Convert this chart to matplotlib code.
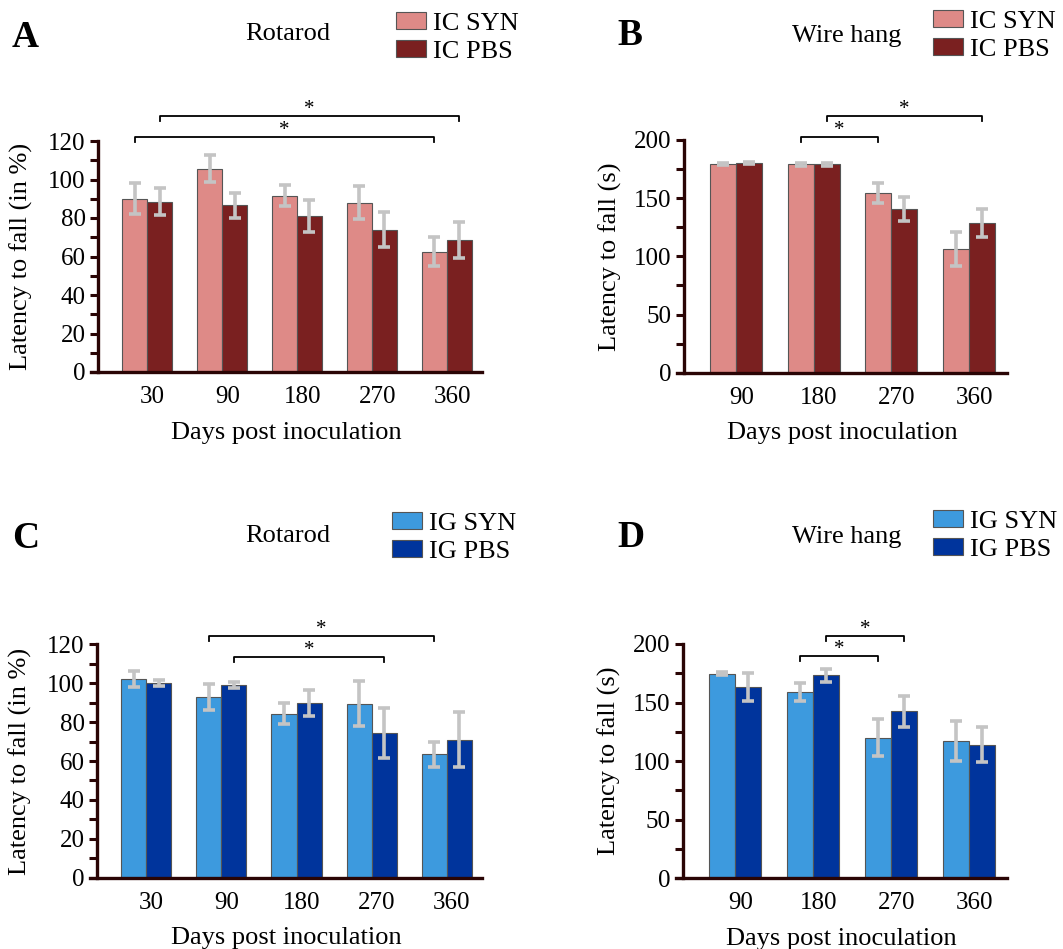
import matplotlib
matplotlib.use("Agg")
import matplotlib.pyplot as plt
import numpy as np

plt.rcParams['font.family'] = ['Liberation Serif', 'DejaVu Serif']

# ---------------- data ----------------
rot_days = ["30", "90", "180", "270", "360"]
wire_days = ["90", "180", "270", "360"]

A_syn = [90, 105.5, 91.5, 88, 62.5]
A_syn_err = [8, 7, 5.5, 8.7, 7.6]
A_pbs = [88.5, 86.5, 81, 74, 68.7]
A_pbs_err = [7, 6.5, 8.5, 9, 9.3]

B_syn = [179.5, 179, 154.5, 106]
B_syn_err = [1, 1, 8.6, 14.7]
B_pbs = [180, 179, 140.5, 128.5]
B_pbs_err = [1, 1, 10.5, 11.8]

C_syn = [102.2, 93, 84.3, 89.5, 63.5]
C_syn_err = [4, 6.6, 5.4, 11.7, 6.5]
C_pbs = [100.2, 99.2, 90, 74.5, 71]
C_pbs_err = [1.4, 1.5, 6.7, 13, 14]

D_syn = [174.7, 159, 120, 117]
D_syn_err = [1.5, 7.3, 15.6, 17]
D_pbs = [163, 173.3, 142.5, 114]
D_pbs_err = [12, 5.7, 13, 15]

# significance brackets: (group_i, series_i, group_j, series_j, y)
A_sig = [(0, 1, 4, 1, 133), (0, 0, 4, 0, 122)]
B_sig = [(1, 0, 2, 0, 202.5), (1, 1, 3, 1, 220.5)]
C_sig = [(1, 0, 4, 0, 124.3), (1, 1, 3, 1, 113.7)]
D_sig = [(1, 0, 2, 0, 189.8), (1, 1, 2, 1, 206.8)]

ic_colors = ["#de8a87", "#7a2020"]
ig_colors = ["#3d9ade", "#00349c"]
ic_labels = ["IC SYN", "IC PBS"]
ig_labels = ["IG SYN", "IG PBS"]

spine_col = "#2a0505"
err_col = "#c4c4c4"

W, H = 1063, 949
fig = plt.figure(figsize=(W / 100, H / 100), dpi=100)

FS_LAB = 19
FS_TICK = 18


def px_axes(x0, x1, ytop, ybot):
    return fig.add_axes([x0 / W, 1 - ybot / H, (x1 - x0) / W, (ybot - ytop) / H])


def panel(ax, days, syn, syn_err, pbs, pbs_err, colors, labels, ylim, major, minor,
          sig, xlim, spine_x, tick_dy):
    n = len(days)
    x = np.arange(n)
    bw = 1 / 3
    bars = []
    for k, (vals, errs) in enumerate([(syn, syn_err), (pbs, pbs_err)]):
        pos = x + (k - 0.5) * bw
        b = ax.bar(pos, vals, width=bw, color=colors[k], edgecolor="#555555",
                   linewidth=0.8, label=labels[k], zorder=2)
        bars.append(b)
        ax.errorbar(pos, vals, yerr=errs, fmt="none", ecolor=err_col,
                    elinewidth=2.6, capsize=4.5, capthick=2.6, zorder=3)
    for (gi, si, gj, sj, yy) in sig:
        xa = gi + (si - 0.5) * bw
        xb = gj + (sj - 0.5) * bw
        ax.plot([xa, xa, xb, xb], [yy - tick_dy, yy, yy, yy - tick_dy],
                color="black", lw=1.3, clip_on=False, zorder=4)
        ax.text((xa + xb) / 2, yy + tick_dy * 1.25, "*", ha="center", va="center",
                fontsize=15, clip_on=False)
    ax.set_xlim(*xlim)
    ax.set_ylim(*ylim)
    ax.set_xticks(x + 0.07)
    ax.set_xticklabels(days)
    ax.set_yticks(np.arange(ylim[0], ylim[1] + 0.1, major))
    ax.set_yticks(np.arange(ylim[0], ylim[1] + 0.1, minor), minor=True)
    ax.tick_params(axis="y", which="both", direction="out", length=6, width=2.2,
                   color=spine_col, labelsize=FS_TICK, pad=3)
    ax.tick_params(axis="x", length=0, labelsize=FS_TICK, pad=10)
    for s in ["top", "right"]:
        ax.spines[s].set_visible(False)
    ax.spines["left"].set_position(("data", spine_x))
    ax.spines["left"].set_bounds(ylim[0], ylim[1])
    for s in ["left", "bottom"]:
        ax.spines[s].set_color(spine_col)
        ax.spines[s].set_linewidth(2.4)
    ax.set_xlabel("Days post inoculation", fontsize=FS_LAB, labelpad=10)
    return bars


def legend(bars, labels, x, y):
    fig.legend(bars, labels, loc="upper left", bbox_to_anchor=(x / W, 1 - y / H),
               frameon=False, fontsize=FS_LAB, handlelength=1.12, handleheight=0.62,
               handletextpad=0.3, labelspacing=0.2, borderaxespad=0, borderpad=0)


# ----- Panel A -----
axA = px_axes(91, 482, 141, 372)
bA = panel(axA, rot_days, A_syn, A_syn_err, A_pbs, A_pbs_err, ic_colors, ic_labels,
           (0, 120), 20, 10, A_sig, (-0.75, 4.47), -0.655, 2.6)
axA.set_ylabel("Latency to fall (in %)", fontsize=FS_LAB)
axA.yaxis.set_label_coords(-0.148, 0.5)
legend(bA, ic_labels, 396, 12)
fig.text(12 / W, 1 - 47 / H, "A", fontsize=27, fontweight="bold", ha="left", va="baseline")
fig.text(288 / W, 1 - 34 / H, "Rotarod", fontsize=FS_LAB, ha="center", va="center")

# ----- Panel B -----
axB = px_axes(677, 1007, 140, 372.7)
bB = panel(axB, wire_days, B_syn, B_syn_err, B_pbs, B_pbs_err, ic_colors, ic_labels,
           (0, 200), 50, 25, B_sig, (-0.76, 3.49), -0.67, 4.3)
axB.set_ylabel("Latency to fall (s)", fontsize=FS_LAB)
axB.yaxis.set_label_coords(-0.167, 0.5)
legend(bB, ic_labels, 933, 10)
fig.text(617 / W, 1 - 45 / H, "B", fontsize=27, fontweight="bold", ha="left", va="baseline")
fig.text(847 / W, 1 - 36 / H, "Wire hang", fontsize=FS_LAB, ha="center", va="center")

# ----- Panel C -----
axC = px_axes(90, 482, 644.3, 877.7)
bC = panel(axC, rot_days, C_syn, C_syn_err, C_pbs, C_pbs_err, ig_colors, ig_labels,
           (0, 120), 20, 10, C_sig, (-0.75, 4.47), -0.655, 2.6)
axC.set_ylabel("Latency to fall (in %)", fontsize=FS_LAB)
axC.yaxis.set_label_coords(-0.148, 0.5)
legend(bC, ig_labels, 392, 512)
fig.text(12 / W, 1 - 548 / H, "C", fontsize=27, fontweight="bold", ha="left", va="baseline")
fig.text(288 / W, 1 - 536 / H, "Rotarod", fontsize=FS_LAB, ha="center", va="center")

# ----- Panel D -----
axD = px_axes(676, 1007, 644, 878.3)
bD = panel(axD, wire_days, D_syn, D_syn_err, D_pbs, D_pbs_err, ig_colors, ig_labels,
           (0, 200), 50, 25, D_sig, (-0.76, 3.49), -0.67, 4.3)
axD.set_ylabel("Latency to fall (s)", fontsize=FS_LAB)
axD.yaxis.set_label_coords(-0.167, 0.5)
legend(bD, ig_labels, 933, 510)
fig.text(617 / W, 1 - 547 / H, "D", fontsize=27, fontweight="bold", ha="left", va="baseline")
fig.text(847 / W, 1 - 537 / H, "Wire hang", fontsize=FS_LAB, ha="center", va="center")

fig.savefig("out.png", dpi=100)
